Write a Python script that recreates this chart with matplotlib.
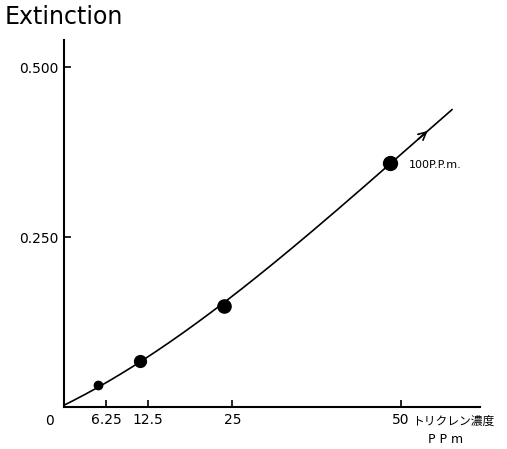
import matplotlib
matplotlib.use("Agg")
import matplotlib.pyplot as plt
import numpy as np

plt.rcParams['font.family'] = ['DejaVu Sans', 'Noto Sans CJK JP']

# measured points (concentration ppm, extinction)
conc = [5.0, 11.3, 23.7, 48.4]
ext = [0.032, 0.068, 0.149, 0.359]
marker_sizes = [6, 8.5, 9.5, 10]

# calibration curve
curve_x = [0, 5.0, 11.3, 23.7, 35.0, 48.4, 57.6]
curve_y = [0, 0.032, 0.068, 0.149, 0.245, 0.359, 0.437]

xtick_pos = [6.25, 12.5, 25, 50]
xtick_labels = ['6.25', '12.5', '25', '50']
ytick_pos = [0.25, 0.5]
ytick_labels = ['0.250', '0.500']

fig = plt.figure(figsize=(5.07, 4.49), dpi=100)
ax = fig.add_axes([0.126, 0.0935, 0.82, 0.817])

# smooth the traced curve a bit
xs = np.linspace(0, curve_x[-1], 200)
coef = np.polyfit(curve_x, curve_y, 3)
ys = np.polyval(coef, xs)
ax.plot(xs, ys, color='black', lw=1.2)

# arrow near the end of the curve
xa = 54.3
ax.annotate('', xy=(xa, np.polyval(coef, xa)), xytext=(xa - 2, np.polyval(coef, xa - 2)),
            arrowprops=dict(arrowstyle='->', color='black', lw=1.2, mutation_scale=14))

for x, y, s in zip(conc, ext, marker_sizes):
    ax.plot(x, y, 'o', color='black', ms=s)

ax.text(51.2, 0.357, '100P.P.m.', fontsize=8, va='center', ha='left')

ax.set_xlim(0, 61.7)
ax.set_ylim(0, 0.54)
ax.spines['top'].set_visible(False)
ax.spines['right'].set_visible(False)
ax.spines['left'].set_linewidth(1.5)
ax.spines['bottom'].set_linewidth(1.5)

ax.set_xticks(xtick_pos)
ax.set_xticklabels(xtick_labels, fontsize=10)
ax.set_yticks(ytick_pos)
ax.set_yticklabels(ytick_labels, fontsize=10)
ax.tick_params(direction='in', length=5, width=1.2, pad=4)

fig.text(0.098, 0.078, '0', fontsize=10, ha='center', va='top')
fig.text(0.01, 0.962, 'Extinction', fontsize=17, ha='left', va='center')
fig.text(0.812, 0.077, 'トリクレン濃度', fontsize=8.5, ha='left', va='top',
         family=['Noto Sans CJK JP', 'DejaVu Sans'])
fig.text(0.845, 0.035, 'P P m', fontsize=9, ha='left', va='top')

fig.savefig('out.png', dpi=100)
